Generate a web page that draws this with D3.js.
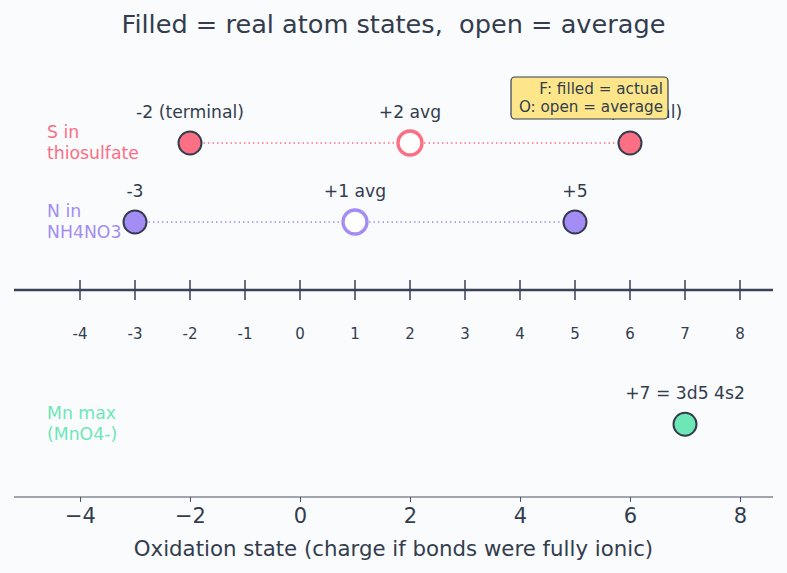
<!DOCTYPE html>
<html>
<head>
<meta charset="utf-8">
<script src="https://cdn.jsdelivr.net/npm/d3@7/dist/d3.min.js"></script>
<style>
  html, body { margin: 0; padding: 0; background: #fafbfd; }
  svg { display: block; font-family: "DejaVu Sans", sans-serif; }
</style>
</head>
<body>
<svg id="chart" width="787" height="573"></svg>
<script>
// ---- data ----
const rowNames = ["S in\nthiosulfate", "N in\nNH4NO3", "Mn max\n(MnO4-)"];
const rowColors = ["#fb6f84", "#a38cf4", "#6ee7b7"];
const actualValues = [[-2, 6], [-3, 5], [7]];
const actualLabels = [["-2 (terminal)", "+6 (central)"], ["-3", "+5"], ["+7 = 3d5 4s2"]];
const averageValues = [2, 1, null];
const averageLabels = ["+2 avg", "+1 avg", null];
const numberLineTicks = [-4, -3, -2, -1, 0, 1, 2, 3, 4, 5, 6, 7, 8];
const axisTicks = [-4, -2, 0, 2, 4, 6, 8];
const legendLines = ["F: filled = actual", "O: open = average"];
const titleText = "Filled = real atom states,  open = average";
const xLabelText = "Oxidation state (charge if bonds were fully ionic)";

// ---- layout ----
const W = 787, H = 573;
const dark = "#333d4d";
const svg = d3.select("#chart");
svg.append("rect").attr("width", W).attr("height", H).attr("fill", "#fafbfd");

const x = d3.scaleLinear().domain([-5.2, 8.6]).range([14, 773]);
const y = d3.scaleLinear().domain([0, 1]).range([222, 143]);
const rowY = [1, 0, -2.56];
const lineY = -0.86;

// title
svg.append("text").attr("x", 393.5).attr("y", 33).attr("text-anchor", "middle")
  .style("white-space", "pre").attr("xml:space", "preserve")
  .attr("font-size", 25.6).attr("fill", dark).text(titleText);

// rows
rowNames.forEach((name, i) => {
  const cy = y(rowY[i]);
  const col = rowColors[i];
  const lines = name.split("\n");
  const t = svg.append("text").attr("x", 47).attr("font-size", 17.3).attr("fill", col);
  lines.forEach((ln, j) => {
    t.append("tspan").attr("x", 47).attr("y", cy - 5 + j * 20.5).text(ln);
  });
  const all = actualValues[i].concat(averageValues[i] == null ? [] : [averageValues[i]]);
  if (all.length > 1) {
    svg.append("line").attr("x1", x(d3.min(all))).attr("x2", x(d3.max(all)))
      .attr("y1", cy).attr("y2", cy).attr("stroke", col).attr("stroke-width", 1.5)
      .attr("stroke-dasharray", "1.5,3");
  }
});

// labels and points
rowNames.forEach((name, i) => {
  const cy = y(rowY[i]);
  const col = rowColors[i];
  actualValues[i].forEach((v, k) => {
    svg.append("text").attr("x", x(v)).attr("y", cy - 25).attr("text-anchor", "middle")
      .attr("font-size", 17.2).attr("fill", dark).text(actualLabels[i][k]);
  });
  if (averageValues[i] != null) {
    svg.append("text").attr("x", x(averageValues[i])).attr("y", cy - 25).attr("text-anchor", "middle")
      .attr("font-size", 17.2).attr("fill", dark).text(averageLabels[i]);
    svg.append("circle").attr("cx", x(averageValues[i])).attr("cy", cy).attr("r", 12)
      .attr("fill", "#ffffff").attr("stroke", col).attr("stroke-width", 3.3);
  }
  actualValues[i].forEach(v => {
    svg.append("circle").attr("cx", x(v)).attr("cy", cy).attr("r", 11.5)
      .attr("fill", col).attr("stroke", dark).attr("stroke-width", 2);
  });
});

// number line
const ly = y(lineY);
svg.append("line").attr("x1", 14).attr("x2", 773).attr("y1", ly).attr("y2", ly)
  .attr("stroke", "#3a4056").attr("stroke-width", 2.5);
numberLineTicks.forEach(v => {
  svg.append("line").attr("x1", x(v)).attr("x2", x(v)).attr("y1", ly - 10).attr("y2", ly + 10)
    .attr("stroke", "#3a4056").attr("stroke-width", 1.5);
  svg.append("text").attr("x", x(v)).attr("y", 339).attr("text-anchor", "middle")
    .attr("font-size", 15).attr("fill", dark).text(String(v));
});

// legend box
const lg = svg.append("g");
lg.append("rect").attr("x", 511).attr("y", 77).attr("width", 157).attr("height", 42).attr("rx", 4)
  .attr("fill", "#fde68a").attr("stroke", dark).attr("stroke-width", 1.2);
legendLines.forEach((t, j) => {
  lg.append("text").attr("x", 663).attr("y", 94.3 + j * 17.4).attr("text-anchor", "end")
    .attr("font-size", 15.2).attr("fill", dark).text(t);
});

// bottom axis
const axisY = 497;
const ax = svg.append("g").attr("transform", `translate(0,${axisY})`)
  .call(d3.axisBottom(x).tickValues(axisTicks).tickSize(5).tickPadding(6)
    .tickFormat(d => d < 0 ? "\u2212" + Math.abs(d) : String(d)));
ax.select(".domain").attr("stroke", "#4a5060").attr("stroke-width", 1.2).attr("d", "M14,0H773");
ax.selectAll(".tick line").attr("stroke", "#4a5060").attr("stroke-width", 1);
ax.selectAll(".tick text").attr("font-size", 21).attr("fill", dark).attr("font-family", "DejaVu Sans, sans-serif");

svg.append("text").attr("x", 393.5).attr("y", 556).attr("text-anchor", "middle")
  .attr("font-size", 21.3).attr("fill", dark).text(xLabelText);
</script>
</body>
</html>
